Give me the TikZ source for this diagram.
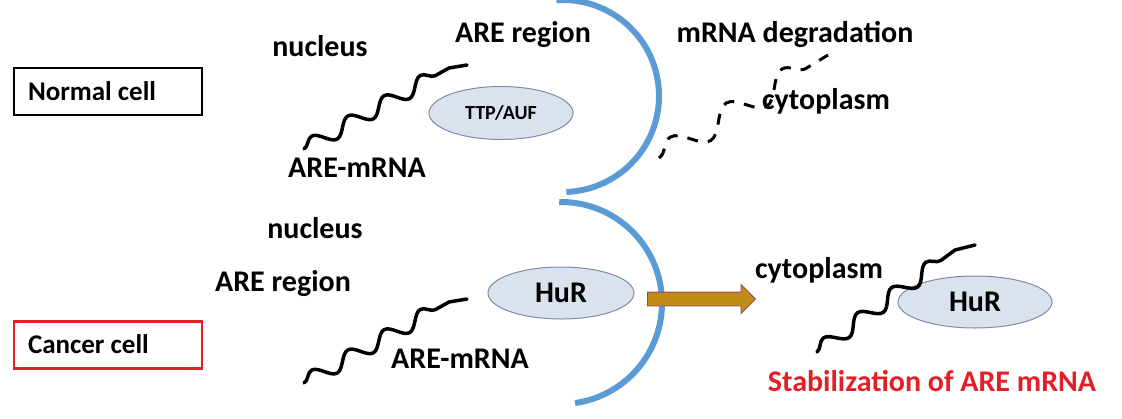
\documentclass[tikz,border=0pt]{standalone}
\usepackage{fontspec}
\setmainfont{Carlito}
\usetikzlibrary{shapes.geometric, shapes.arrows, decorations.pathmorphing}
\definecolor{membraneblue}{RGB}{91,155,213}
\definecolor{protfill}{RGB}{218,226,238}
\definecolor{protedge}{RGB}{125,140,170}
\definecolor{arrowfill}{RGB}{192,140,22}
\definecolor{arrowedge}{RGB}{150,70,100}
\definecolor{alertred}{RGB}{226,30,38}
\tikzset{
  tag/.style={font=\fontsize{30}{36}\selectfont\bfseries, text height=19pt, text depth=0pt, inner sep=0pt},
  cellbox/.style={draw, line width=2.5pt, minimum height=47pt, text width=160pt, inner xsep=14pt, align=flush left, font=\fontsize{27}{32}\selectfont\bfseries, text height=17.3pt, text depth=0pt},
  prot/.style={ellipse, draw=protedge, fill=protfill, line width=1pt, minimum width=146pt, minimum height=52pt, inner sep=0pt, font=\fontsize{30}{36}\selectfont\bfseries},
  mrna/.style={line width=3.5pt, line cap=round},
  wiggle/.style={decoration={snake, amplitude=7.5pt, segment length=#1}},
  membrane/.style={line width=6pt, draw=membraneblue},
  move/.style={single arrow, draw=arrowedge, fill=arrowfill, line width=0.8pt, minimum height=108pt, inner xsep=0pt, inner ysep=6.5pt, single arrow head extend=7.5pt}
}

\begin{document}
\begin{tikzpicture}[x=1pt, y=-1pt]
    \useasboundingbox (0,0) rectangle (1122,418);

    % cell type boxes
    \node[cellbox] (normal) at (108,91.5) {Normal cell};
    \node[cellbox, draw=alertred] (cancer) at (108,345) {Cancer cell};

    % nuclear membranes
    \coordinate (topc) at (563,96);
    \coordinate (botc) at (561,303);
    \draw[membrane] (topc) ++(-94:96) arc[start angle=-94, end angle=88, radius=96];
    \draw[membrane] (botc) ++(-91:101) arc[start angle=-91, end angle=82, radius=101];

    % normal cell
    \node[tag] (nuc1) at (320,47) {nucleus};
    \node[tag] (are1) at (523,33) {ARE region};
    \node[tag] (mrna1) at (357,168) {ARE-mRNA};
    \node[prot, minimum width=144pt, minimum height=53pt, font=\fontsize{20}{24}\selectfont\bfseries] (ttp) at (501,113) {TTP/AUF};
    \node[tag] (deg) at (795,33) {mRNA degradation};
    \node[tag] (cyto1) at (826,100) {cytoplasm};
    \draw[mrna] (304,149) decorate[wiggle=41.5pt] { -- (449,68) } -- (467,65);
    \draw[mrna, line width=3pt, line cap=butt, dash pattern=on 11pt off 10pt]
      (659,158) decorate[wiggle=65.5pt, decoration={amplitude=12pt}] { -- (828,55) };

    % cancer cell
    \node[tag] (nuc2) at (315,229) {nucleus};
    \node[tag] (are2) at (283,282) {ARE region};
    \node[tag] (mrna2) at (460,359) {ARE-mRNA};
    \node[prot] (hur1) at (561,293) {HuR};
    \draw[mrna] (304,383) decorate[wiggle=41.5pt] { -- (449,302) } -- (467,299);
    \node[move] (push) at (698,299) {};
    \node[tag] (cyto2) at (819,269) {cytoplasm};
    \node[prot, minimum width=154pt] (hur2) at (975,302) {HuR};
    \draw[mrna] (817,352) decorate[wiggle=42.5pt] { -- (955,250) } -- (975,245);
    \node[tag, text=alertred] (stab) at (932,382) {Stabilization of ARE mRNA};
\end{tikzpicture}
\end{document}
